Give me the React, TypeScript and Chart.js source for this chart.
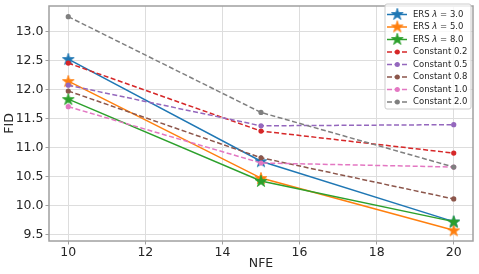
import React, { useEffect, useRef } from "react";
import { Chart, registerables } from "chart.js";
Chart.register(...registerables);

const nfe = [10, 15, 20];
const xTicks = [10, 12, 14, 16, 18, 20];
const yTicks = [9.5, 10.0, 10.5, 11.0, 11.5, 12.0, 12.5, 13.0];
const ers3 = [12.53, 10.77, 9.73];
const ers5 = [12.15, 10.48, 9.58];
const ers8 = [11.84, 10.43, 9.73];
const c02 = [12.46, 11.29, 10.91];
const c05 = [12.08, 11.38, 11.4];
const c08 = [11.98, 10.83, 10.12];
const c10 = [11.71, 10.74, 10.67];
const c20 = [13.26, 11.61, 10.67];
const seriesNames = ["ERS λ = 3.0", "ERS λ = 5.0", "ERS λ = 8.0", "Constant 0.2", "Constant 0.5", "Constant 0.8", "Constant 1.0", "Constant 2.0"];
const seriesValues = [ers3, ers5, ers8, c02, c05, c08, c10, c20];
const seriesColors = ["#1f77b4", "#ff7f0e", "#2ca02c", "#d62728", "#9467bd", "#8c564b", "#e377c2", "#7f7f7f"];
const seriesStar = [true, true, true, false, false, false, false, false];
const xLabel = "NFE";
const yLabel = "FID";

const FONT = "'DejaVu Sans', sans-serif";

function starPath(ctx: CanvasRenderingContext2D, cx: number, cy: number, R: number) {
  const r = R * 0.381966;
  ctx.beginPath();
  for (let i = 0; i < 10; i++) {
    const rad = i % 2 === 0 ? R : r;
    const a = -Math.PI / 2 + (i * Math.PI) / 5;
    const x = cx + rad * Math.cos(a);
    const y = cy + rad * Math.sin(a);
    if (i === 0) ctx.moveTo(x, y);
    else ctx.lineTo(x, y);
  }
  ctx.closePath();
}

function makeStar(color: string): HTMLCanvasElement {
  const c = document.createElement("canvas");
  c.width = 14;
  c.height = 14;
  const ctx = c.getContext("2d")!;
  starPath(ctx, 7, 7.5, 6.2);
  ctx.fillStyle = color;
  ctx.fill();
  ctx.strokeStyle = color;
  ctx.lineWidth = 0.8;
  ctx.stroke();
  return c;
}

export default function App() {
  const ref = useRef<HTMLCanvasElement>(null);
  useEffect(() => {
    document.body.style.margin = "0";
    const canvas = ref.current!;
    const stars = seriesColors.map((c) => makeStar(c));

    const datasets = seriesNames.map((name, i) => ({
      label: name,
      data: nfe.map((x, j) => ({ x, y: seriesValues[i][j] })),
      borderColor: seriesColors[i],
      backgroundColor: seriesColors[i],
      borderWidth: 1.5,
      borderDash: seriesStar[i] ? [] : [5, 2.5],
      pointStyle: seriesStar[i] ? (stars[i] as any) : "circle",
      pointRadius: seriesStar[i] ? 6 : 2.6,
      pointBorderWidth: 0,
      pointBackgroundColor: seriesColors[i],
      order: seriesNames.length - i,
      tension: 0,
    }));

    const frameLegend = {
      id: "frameLegend",
      afterDatasetsDraw(chart: any) {
        const { ctx, chartArea: a } = chart;
        ctx.save();
        ctx.strokeStyle = "#a0a0a0";
        ctx.lineWidth = 1.5;
        ctx.strokeRect(a.left, a.top, a.right - a.left, a.bottom - a.top);
        ctx.restore();
      },
      afterDraw(chart: any) {
        const { ctx, chartArea: a } = chart;
        ctx.save();
        ctx.fillStyle = "#262626";
        ctx.font = `12.5px ${FONT}`;
        ctx.textAlign = "center";
        ctx.textBaseline = "middle";
        ctx.fillText(xLabel, (a.left + a.right) / 2, 264);
        ctx.save();
        ctx.translate(10, (a.top + a.bottom) / 2);
        ctx.rotate(-Math.PI / 2);
        ctx.fillText(yLabel, 0, 0);
        ctx.restore();

        const bx = 385, by = 4, bw = 86, bh = 105;
        const rr = 2;
        ctx.beginPath();
        ctx.moveTo(bx + rr, by);
        ctx.lineTo(bx + bw - rr, by);
        ctx.arcTo(bx + bw, by, bx + bw, by + rr, rr);
        ctx.lineTo(bx + bw, by + bh - rr);
        ctx.arcTo(bx + bw, by + bh, bx + bw - rr, by + bh, rr);
        ctx.lineTo(bx + rr, by + bh);
        ctx.arcTo(bx, by + bh, bx, by + bh - rr, rr);
        ctx.lineTo(bx, by + rr);
        ctx.arcTo(bx, by, bx + rr, by, rr);
        ctx.closePath();
        ctx.fillStyle = "rgba(255,255,255,0.8)";
        ctx.fill();
        ctx.strokeStyle = "#cccccc";
        ctx.lineWidth = 1;
        ctx.stroke();

        seriesNames.forEach((name, i) => {
          const y = 14.5 + i * 12.5;
          const col = seriesColors[i];
          ctx.strokeStyle = col;
          ctx.lineWidth = 1.5;
          ctx.setLineDash(seriesStar[i] ? [] : [5, 2.5]);
          ctx.beginPath();
          ctx.moveTo(387, y);
          ctx.lineTo(407, y);
          ctx.stroke();
          ctx.setLineDash([]);
          if (seriesStar[i]) {
            ctx.drawImage(stars[i], 397.3 - 7, y - 7.5);
          } else {
            ctx.fillStyle = col;
            ctx.beginPath();
            ctx.arc(397.3, y, 2.5, 0, Math.PI * 2);
            ctx.fill();
          }
          ctx.fillStyle = "#262626";
          ctx.textAlign = "left";
          ctx.textBaseline = "middle";
          if (name.includes("λ")) {
            const [pre, post] = name.split("λ");
            let x = 413;
            ctx.font = `8.5px ${FONT}`;
            ctx.fillText(pre, x, y);
            x += ctx.measureText(pre).width;
            ctx.font = `italic 8.5px ${FONT}`;
            ctx.fillText("λ", x, y);
            x += ctx.measureText("λ").width;
            ctx.font = `8.5px ${FONT}`;
            ctx.fillText(post, x, y);
          } else {
            ctx.font = `8.5px ${FONT}`;
            ctx.fillText(name, 413, y);
          }
        });
        ctx.restore();
      },
    };

    const chart = new Chart(canvas, {
      type: "line",
      data: { datasets: datasets as any },
      options: {
        animation: false,
        responsive: false,
        maintainAspectRatio: false,
        layout: { padding: { top: 3, right: 4.5, left: 0, bottom: 0 } },
        plugins: { legend: { display: false }, tooltip: { enabled: false } },
        scales: {
          x: {
            type: "linear",
            min: 9.5,
            max: 20.5,
            afterBuildTicks: (s: any) => {
              s.ticks = xTicks.map((v) => ({ value: v }));
            },
            afterFit: (s: any) => {
              s.height = 33;
              s.paddingLeft = 0;
              s.paddingRight = 0;
            },
            grid: { color: "#dddddd", lineWidth: 1, drawTicks: true, tickLength: 3.5, tickColor: "#a0a0a0" },
            border: { display: false },
            ticks: { color: "#262626", font: { family: FONT, size: 12.5 }, padding: 1, maxRotation: 0, callback: (v: any) => String(v) },
          },
          y: {
            type: "linear",
            min: 9.396,
            max: 13.444,
            afterBuildTicks: (s: any) => {
              s.ticks = yTicks.map((v) => ({ value: v }));
            },
            afterFit: (s: any) => {
              s.width = 49;
              s.paddingTop = 0;
              s.paddingBottom = 0;
            },
            grid: { color: "#dddddd", lineWidth: 1, drawTicks: true, tickLength: 3.5, tickColor: "#a0a0a0" },
            border: { display: false },
            ticks: { color: "#262626", font: { family: FONT, size: 12.5 }, padding: 2, callback: (v: any) => Number(v).toFixed(1) },
          },
        },
      },
      plugins: [frameLegend],
    });
    return () => chart.destroy();
  }, []);
  return <canvas ref={ref} width={479} height={274} style={{ display: "block" }} />;
}
